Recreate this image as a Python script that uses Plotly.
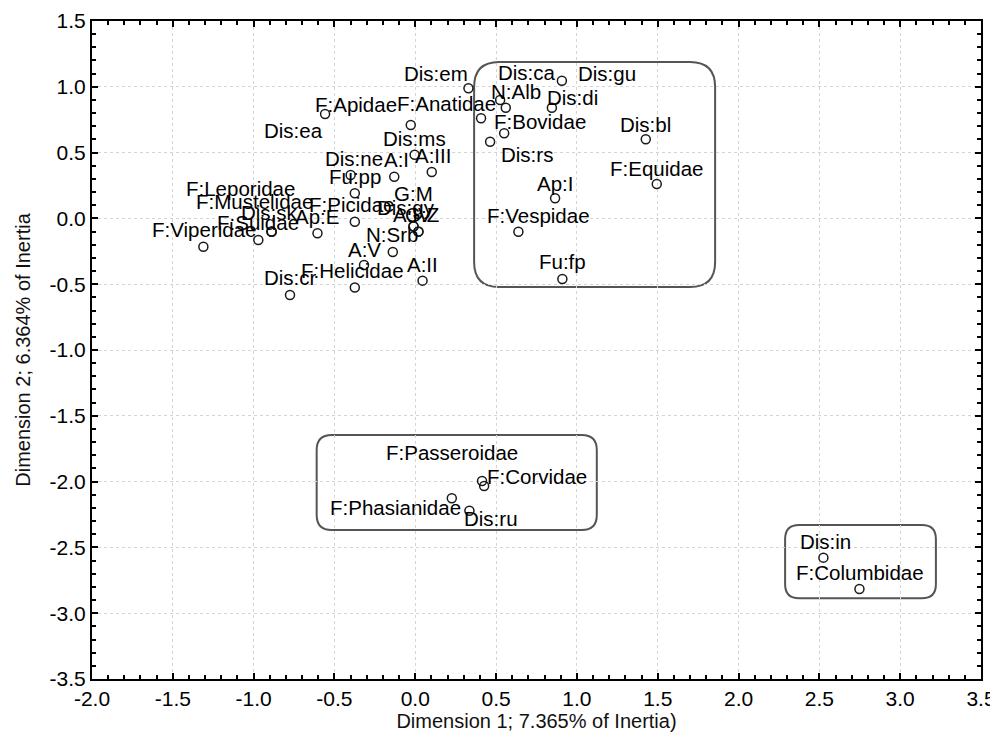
import plotly.graph_objects as go

# ---------------- data ----------------
labels = [
    "Dis:em", "Dis:ca", "N:Alb", "F:Anatidae", "Dis:gu", "Dis:di", "F:Bovidae", "Dis:rs",
    "Dis:bl", "F:Equidae", "Ap:I", "F:Vespidae", "Fu:fp",
    "Dis:ea", "F:Apidae", "Dis:ms", "A:III", "A:I", "Dis:ne", "Fu:pp", "F:Picidae", "Ap:E",
    "Dis:sk", "F:Suidae", "F:Viperidae", "N:Srb", "G:Z", "A:IV", "Dis:gy", "G:M", "A:V",
    "A:II", "F:Helicidae", "Dis:cr", "F:Mustelidae", "F:Leporidae",
    "F:Passeroidae", "F:Corvidae", "F:Phasianidae", "Dis:ru",
    "Dis:in", "F:Columbidae",
]
dim1 = [
    0.329, 0.525, 0.560, 0.407, 0.907, 0.845, 0.550, 0.463,
    1.426, 1.494, 0.865, 0.638, 0.910,
    -0.558, -0.028, -0.004, 0.102, -0.130, -0.400, -0.374, -0.374, -0.605,
    -0.888, -0.971, -1.311, -0.139, 0.019, 0.020, -0.012, -0.010, -0.317,
    0.045, -0.374, -0.775, -0.890, -0.889,
    0.413, 0.426, 0.226, 0.335,
    2.525, 2.748,
]
dim2 = [
    0.989, 0.900, 0.841, 0.761, 1.046, 0.841, 0.647, 0.583,
    0.601, 0.261, 0.153, -0.101, -0.460,
    0.793, 0.710, 0.484, 0.353, 0.317, 0.330, 0.191, -0.025, -0.113,
    -0.101, -0.164, -0.215, -0.255, -0.101, -0.100, -0.060, -0.061, -0.354,
    -0.473, -0.525, -0.582, -0.100, -0.101,
    -1.995, -2.033, -2.127, -2.221,
    -2.578, -2.816,
]

x_ticks = [-2.0, -1.5, -1.0, -0.5, 0.0, 0.5, 1.0, 1.5, 2.0, 2.5, 3.0, 3.5]
x_tick_labels = ["-2.0", "-1.5", "-1.0", "-0.5", "0.0", "0.5", "1.0", "1.5", "2.0", "2.5", "3.0", "3.5"]
y_ticks = [-3.5, -3.0, -2.5, -2.0, -1.5, -1.0, -0.5, 0.0, 0.5, 1.0, 1.5]
y_tick_labels = ["-3.5", "-3.0", "-2.5", "-2.0", "-1.5", "-1.0", "-0.5", "0.0", "0.5", "1.0", "1.5"]

x_title = "Dimension 1; 7.365% of Inertia)"
y_title = "Dimension 2; 6.364% of Inertia"

# label placement relative to the point (pixels: right, down)
label_dx = [
    -32, 27, 10, -35, 45, 21, 36, 37,
    0, 0, 0, 20, 0,
    -32, -55, 0, 1, 2, 3, 0, -3, 0,
    -2, 0, 1, -1, 4, -6, -7, 0, 0,
    0, -2, 0, -17, -31,
    -30, 53, -56, 22,
    2, 1,
]
label_dy = [
    -15, -27, -16, -15, -7, -10, -12, 13,
    -15, -16, -15, -16, -17,
    16, -20, -16, -16, -17, -16, -17, -17, -17,
    -19, -17, -17, -17, -17, -17, -19, -33, -15,
    -16, -17, -17, -30, -43,
    -28, -9, 9, 8,
    -16, -16,
]

# group outlines (x0, x1, y0, y1, corner radius px)
groups = [
    (0.364, 1.855, -0.521, 1.188, 25),
    (-0.610, 1.123, -2.368, -1.646, 15),
    (2.288, 3.221, -2.887, -2.330, 14),
]

FONT = "Liberation Sans, Arial, sans-serif"
PX_X = 889 / 5.5
PX_Y = 658 / 5.0


def rounded_rect(x0, x1, y0, y1, r):
    rx, ry = r / PX_X, r / PX_Y
    return (
        f"M {x0+rx},{y1} L {x1-rx},{y1} Q {x1},{y1} {x1},{y1-ry} "
        f"L {x1},{y0+ry} Q {x1},{y0} {x1-rx},{y0} "
        f"L {x0+rx},{y0} Q {x0},{y0} {x0},{y0+ry} "
        f"L {x0},{y1-ry} Q {x0},{y1} {x0+rx},{y1} Z"
    )


fig = go.Figure()
fig.add_trace(go.Scatter(
    x=dim1, y=dim2, mode="markers", text=labels, hoverinfo="text",
    marker=dict(symbol="circle-open", size=9, color="#1a1a1a", line=dict(width=1.5, color="#1a1a1a")),
    showlegend=False,
))

for name, x, y, dx, dy in zip(labels, dim1, dim2, label_dx, label_dy):
    fig.add_annotation(
        x=x, y=y, text=name, showarrow=False, xshift=dx, yshift=-dy,
        xanchor="center", yanchor="middle",
        font=dict(family=FONT, size=20.5, color="#000000"),
    )

for x0, x1, y0, y1, r in groups:
    fig.add_shape(type="path", path=rounded_rect(x0, x1, y0, y1, r),
                  line=dict(color="#555555", width=2), layer="below")

axis_common = dict(
    showline=True, linecolor="black", linewidth=2, mirror="allticks",
    ticks="inside", ticklen=6, tickwidth=1.5, tickcolor="black",
    showgrid=True, gridcolor="#d4d4d4", griddash="dot", gridwidth=1,
    zeroline=False,
    tickfont=dict(family=FONT, size=21, color="#000000"),
)

fig.update_xaxes(
    range=[-2.0, 3.5], tickmode="array", tickvals=x_ticks, ticktext=x_tick_labels,
    minor=dict(ticks="inside", dtick=0.1, tick0=-2.0, ticklen=4, tickcolor="black", showgrid=False),
    title=dict(text=x_title, font=dict(family=FONT, size=20, color="#111111"), standoff=0),
    **axis_common,
)
fig.update_yaxes(
    range=[-3.5, 1.5], tickmode="array", tickvals=y_ticks, ticktext=y_tick_labels,
    minor=dict(ticks="inside", dtick=0.1, tick0=-3.5, ticklen=4, tickcolor="black", showgrid=False),
    title=dict(text=y_title, font=dict(family=FONT, size=20, color="#111111"), standoff=14),
    **axis_common,
)

# page body has an 8px margin: shift the figure so the plot frame lands where the reference has it
fig.update_layout(
    width=990, height=737,
    margin=dict(l=84, r=17, t=13, b=66, autoexpand=False),
    plot_bgcolor="white", paper_bgcolor="white",
)

fig.write_html("out.html")
